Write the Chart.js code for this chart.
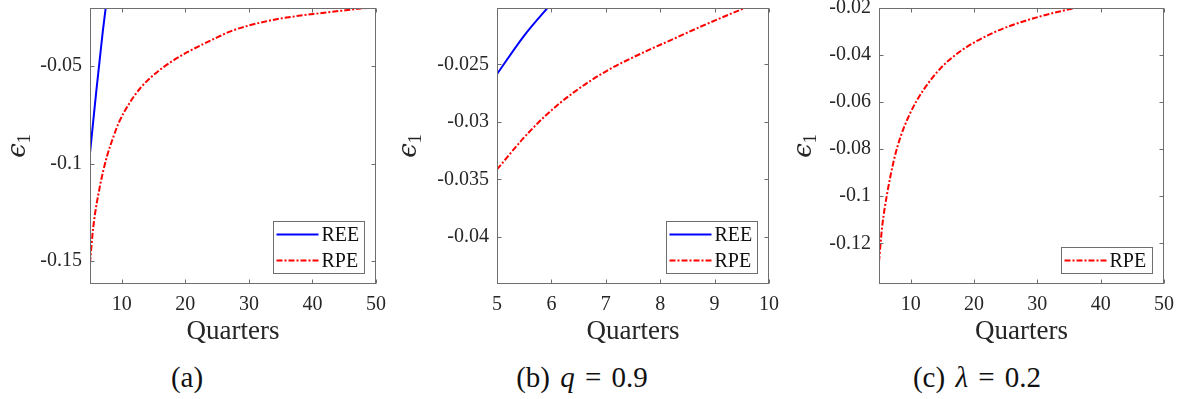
<!DOCTYPE html>
<html>
<head>
<meta charset="utf-8">
<script src="https://cdn.jsdelivr.net/npm/chart.js@4.4.0/dist/chart.umd.min.js"></script>
<style>
  body { margin:0; background:#fff; width:1187px; height:399px; position:relative; overflow:hidden; font-family:"Liberation Serif", "Times New Roman", serif; color:#262626; }
  .panel { position:absolute; top:0; }
  .ylab { position:absolute; font-family:"DejaVu Serif", serif; font-size:26px; transform:translate(-50%,-50%) rotate(-90deg); white-space:nowrap; color:#262626; }
  .ylab sub { font-size:18px; font-family:"Liberation Serif", serif; vertical-align:-5px; }
  .cap { position:absolute; top:377px; transform:translate(-50%,-50%); font-size:29px; word-spacing:3px; color:#111; white-space:nowrap; }
</style>
</head>
<body>
<canvas id="ca" class="panel" style="left:0px" width="390" height="350"></canvas>
<canvas id="cb" class="panel" style="left:400px" width="380" height="350"></canvas>
<canvas id="cc" class="panel" style="left:790px" width="397" height="350"></canvas>

<div class="ylab" style="left:18px; top:146px"><i>ϵ</i><sub>1</sub></div>
<div class="ylab" style="left:409px; top:146px"><i>ϵ</i><sub>1</sub></div>
<div class="ylab" style="left:804px; top:146px"><i>ϵ</i><sub>1</sub></div>

<div class="cap" style="left:187px">(a)</div>
<div class="cap" style="left:582px">(b) <i>q</i> = 0.9</div>
<div class="cap" style="left:977px">(c) <i>λ</i> = 0.2</div>

<script>
// panel (a)
var reeAx = [5, 5.5, 6, 6.5, 7, 7.5];
var reeAy = [-0.0946, -0.0785, -0.0625, -0.0475, -0.0325, -0.0193];
var rpeAx = [5, 5.5, 6.6, 7.65, 8.7, 9.5, 11.3, 12.9, 15, 17.65, 20.3, 22.9, 25, 27, 30.1, 34.8, 40.1, 44.3, 47.5, 50];
var rpeAy = [-0.151, -0.133, -0.111, -0.0965, -0.0861, -0.0792, -0.0685, -0.0613, -0.0545, -0.048, -0.0428, -0.0385, -0.0352, -0.0322, -0.029, -0.0256, -0.0232, -0.0216, -0.0204, -0.0196];
var xTicksA = [10, 20, 30, 40, 50];
var yTicksA = [-0.15, -0.1, -0.05];
var yLabelsA = ["-0.15", "-0.1", "-0.05"];

// panel (b) q = 0.9
var reeBx = [5, 5.5, 6];
var reeBy = [-0.02585, -0.0225, -0.0197];
var rpeBx = [5, 5.49, 5.92, 6.41, 7.02, 7.63, 8.24, 8.85, 9.56, 10];
var rpeBy = [-0.03414, -0.0314, -0.02934, -0.02744, -0.02556, -0.0241, -0.0228, -0.0215, -0.0201, -0.0193];
var xTicksB = [5, 6, 7, 8, 9, 10];
var yTicksB = [-0.04, -0.035, -0.03, -0.025];
var yLabelsB = ["-0.04", "-0.035", "-0.03", "-0.025"];

// panel (c) lambda = 0.2
var rpeCx = [5, 5.5, 6.3, 7.36, 8.42, 9.73, 11.04, 12.9, 15.27, 17.9, 20, 22.66, 25.3, 27.9, 30.3, 33.5, 35.6, 38];
var rpeCy = [-0.1278, -0.1129, -0.0987, -0.0846, -0.0746, -0.0658, -0.059, -0.0515, -0.0441, -0.0383, -0.0347, -0.031, -0.028, -0.0256, -0.0237, -0.0215, -0.0202, -0.0189];
var xTicksC = [10, 20, 30, 40, 50];
var yTicksC = [-0.12, -0.1, -0.08, -0.06, -0.04, -0.02];
var yLabelsC = ["-0.12", "-0.1", "-0.08", "-0.06", "-0.04", "-0.02"];

var textColor = "#262626";
var boxColor = "#6e6e6e";
var serif = "'Liberation Serif', 'Times New Roman', serif";

function pts(xs, ys) {
  return xs.map(function (x, i) { return {x: x, y: ys[i]}; });
}

function reeSet(xs, ys) {
  return { label: "REE", data: pts(xs, ys), borderColor: "#0000ff", borderWidth: 2,
           pointRadius: 0, cubicInterpolationMode: "monotone", fill: false };
}
function rpeSet(xs, ys) {
  return { label: "RPE", data: pts(xs, ys), borderColor: "#ff0000", borderWidth: 2,
           borderDash: [6, 2, 2, 2], pointRadius: 0, cubicInterpolationMode: "monotone", fill: false };
}

// box around the axes, inward ticks on all four sides, legend inside bottom right
var framePlugin = {
  id: "frame",
  afterDatasetsDraw: function (chart) {
    var ctx = chart.ctx, a = chart.chartArea;
    var xs = chart.scales.x, ys = chart.scales.y;
    var L = Math.round(a.left) + 0.5, R = Math.round(a.right) - 0.5;
    var T = Math.round(a.top) + 0.5, B = Math.round(a.bottom) - 0.5;
    ctx.save();
    ctx.strokeStyle = boxColor;
    ctx.lineWidth = 1;
    ctx.strokeRect(L, T, R - L, B - T);
    ctx.beginPath();
    xs.ticks.forEach(function (t) {
      var p = Math.round(xs.getPixelForValue(t.value)) + 0.5;
      ctx.moveTo(p, B); ctx.lineTo(p, B - 4);
      ctx.moveTo(p, T); ctx.lineTo(p, T + 4);
    });
    ys.ticks.forEach(function (t) {
      var p = Math.round(ys.getPixelForValue(t.value)) + 0.5;
      ctx.moveTo(L, p); ctx.lineTo(L + 4, p);
      ctx.moveTo(R, p); ctx.lineTo(R - 4, p);
    });
    ctx.stroke();

    // legend
    var sets = chart.data.datasets;
    var w = 91, rowH = 26;
    var h = 26 + rowH * (sets.length - 1);
    var bx = Math.round(a.right - 12 - w) + 0.5;
    var by = Math.round(a.bottom - 11 - h) + 0.5;
    ctx.fillStyle = "#fff";
    ctx.fillRect(bx, by, w, h);
    ctx.strokeStyle = boxColor;
    ctx.strokeRect(bx, by, w, h);
    ctx.font = "20px " + serif;
    ctx.textBaseline = "middle";
    sets.forEach(function (ds, i) {
      var cy = by + 13 + i * rowH;
      ctx.beginPath();
      ctx.strokeStyle = ds.borderColor;
      ctx.lineWidth = 2;
      ctx.setLineDash(ds.borderDash || []);
      ctx.moveTo(bx + 3, cy); ctx.lineTo(bx + 45, cy);
      ctx.stroke();
      ctx.setLineDash([]);
      ctx.fillStyle = "#111";
      ctx.fillText(ds.label, bx + 48, cy + 1);
    });
    ctx.restore();
  }
};

function makeChart(id, datasets, xMin, xMax, xTicks, yMin, yMax, yTicks, yLabels, yWidth, rightPad) {
  return new Chart(document.getElementById(id), {
    type: "line",
    data: { datasets: datasets },
    plugins: [framePlugin],
    options: {
      responsive: false,
      devicePixelRatio: 1,
      animation: false,
      layout: { padding: { top: 8, right: rightPad, left: 0, bottom: 0 } },
      plugins: { legend: { display: false }, tooltip: { enabled: false } },
      scales: {
        x: {
          type: "linear", min: xMin, max: xMax,
          grid: { display: false, drawTicks: false },
          border: { display: false },
          afterBuildTicks: function (s) { s.ticks = xTicks.map(function (v) { return {value: v}; }); },
          afterFit: function (s) { s.height = 66; s.paddingLeft = 0; s.paddingRight = 0; },
          ticks: { autoSkip: false, maxRotation: 0, padding: 9, color: textColor,
                   font: { family: serif, size: 20 },
                   callback: function (v) { return String(v); } },
          title: { display: true, text: "Quarters", color: textColor,
                   font: { family: serif, size: 27 }, padding: { top: 0, bottom: 2 } }
        },
        y: {
          type: "linear", min: yMin, max: yMax,
          grid: { display: false, drawTicks: false },
          border: { display: false },
          afterBuildTicks: function (s) { s.ticks = yTicks.map(function (v) { return {value: v}; }); },
          afterFit: function (s) { s.width = yWidth; s.paddingTop = 0; s.paddingBottom = 0; },
          ticks: { autoSkip: false, padding: 8, color: textColor,
                   font: { family: serif, size: 20 },
                   callback: function (v, i) { return yLabels[i]; } }
        }
      }
    }
  });
}

makeChart("ca", [reeSet(reeAx, reeAy), rpeSet(rpeAx, rpeAy)],
  5, 50, xTicksA, -0.1618, -0.0201, yTicksA, yLabelsA, 90, 14);
makeChart("cb", [reeSet(reeBx, reeBy), rpeSet(rpeBx, rpeBy)],
  5, 10, xTicksB, -0.0441, -0.0201, yTicksB, yLabelsB, 97, 11);
makeChart("cc", [rpeSet(rpeCx, rpeCy)],
  5, 50, xTicksC, -0.1373, -0.02, yTicksC, yLabelsC, 89, 23);
</script>
</body>
</html>
